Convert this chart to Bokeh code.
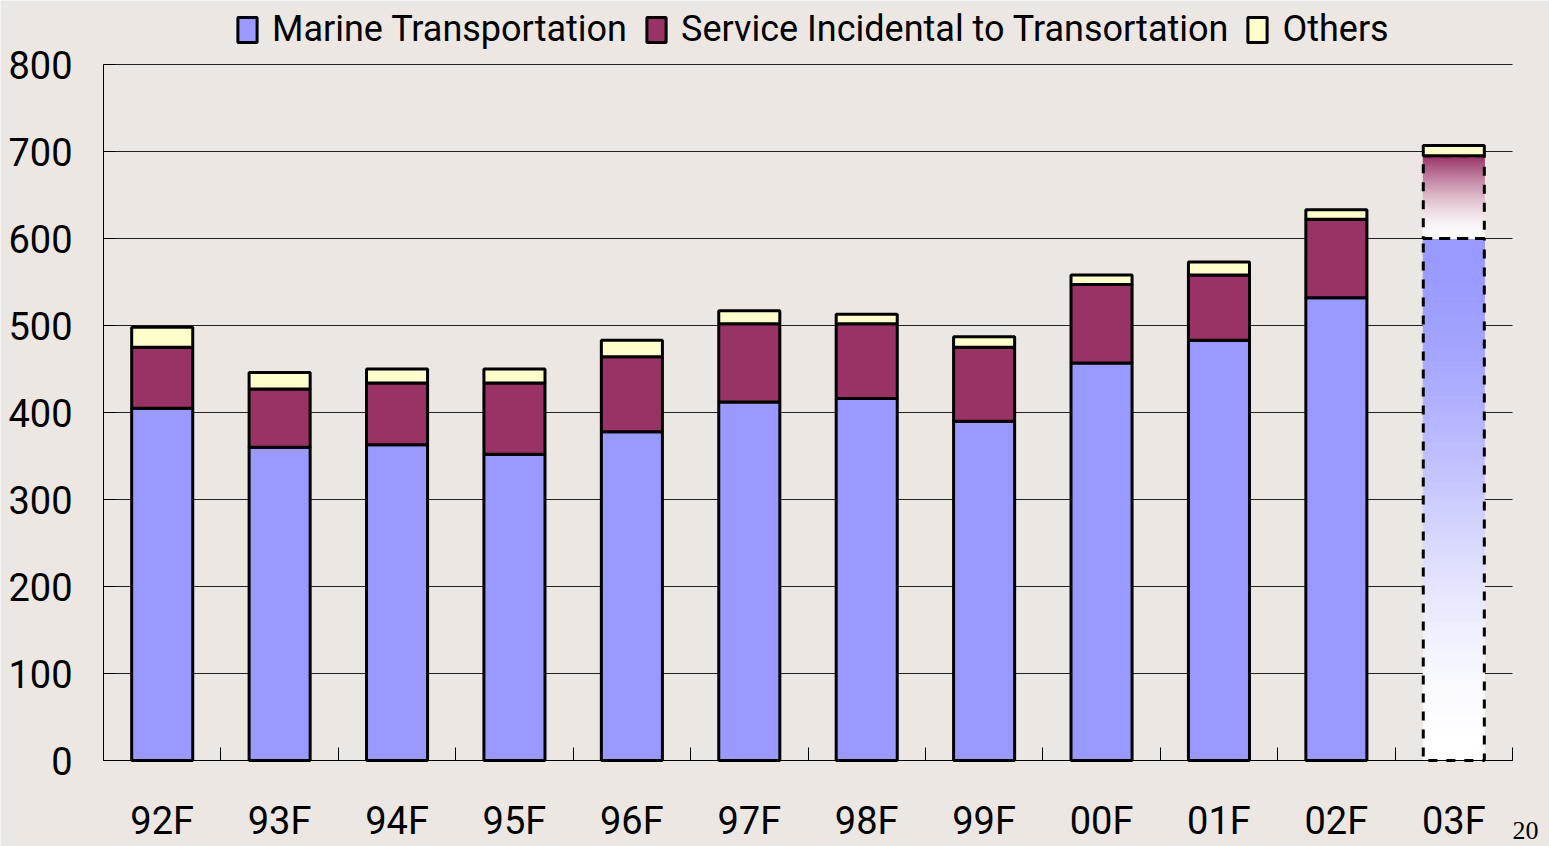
import re
import numpy as np
from bokeh.plotting import figure
from bokeh.models import ColumnDataSource, FixedTicker, Legend, LegendItem, Label, Range1d
from bokeh.embed import file_html
from bokeh.resources import INLINE

# ---------------- data ----------------
years = ["92F", "93F", "94F", "95F", "96F", "97F", "98F", "99F", "00F", "01F", "02F", "03F"]
marine = [405, 360, 363, 352, 378, 412, 416, 390, 457, 483, 532, 600]
service = [70, 67, 71, 82, 86, 90, 86, 85, 90, 75, 90, 95]
others = [23, 19, 16, 16, 19, 15, 11, 12, 11, 15, 11, 12]
y_ticks = [0, 100, 200, 300, 400, 500, 600, 700, 800]
series_names = ["Marine Transportation", "Service Incidental to Transortation", "Others"]
series_colors = ["#9999FF", "#993366", "#FFFFCC"]
page_number = "20"

# ---------------- layout / style ----------------
BG = "#ECE7E3"
FONT = "Roboto"
BAR_W = 0.52
W, H = 1549, 846
PLOT_L, PLOT_R, PLOT_T, PLOT_B = 103, 1512, 64, 760   # plotting area in canvas px

n = len(years)
xs = list(range(n))
last = n - 1  # forecast bar drawn with gradient / dashed outline
ymax = y_ticks[-1]

y_per_px = ymax / (PLOT_B - PLOT_T)
x_per_px = n / (PLOT_R - PLOT_L)
y_range = Range1d(-(H - PLOT_B) * y_per_px, ymax + PLOT_T * y_per_px)
x_range = Range1d(-0.5 - PLOT_L * x_per_px, n - 0.5 + (W - PLOT_R) * x_per_px)

p = figure(width=W, height=H, x_range=x_range, y_range=y_range,
           output_backend="svg", toolbar_location=None, min_border=0)
p.background_fill_color = BG
p.border_fill_color = BG
p.outline_line_color = None
p.xgrid.visible = False
p.ygrid.visible = False

# horizontal grid lines limited to the plotting area
p.segment(x0=-0.5, x1=n - 0.5, y0=y_ticks, y1=y_ticks, line_color="#222222", line_width=1)

# actual bars
src = ColumnDataSource(dict(x=xs[:last], marine=marine[:last], service=service[:last], others=others[:last]))
rs = p.vbar_stack(["marine", "service", "others"], x="x", width=BAR_W, source=src,
                  fill_color=series_colors, line_color="black", line_width=3)

# forecast bar with gradient fill
def hex2rgb(h):
    h = h.lstrip("#")
    return tuple(int(h[i:i + 2], 16) for i in (0, 2, 4))

def mix(base, f):
    r, g, b = hex2rgb(base)
    return "#%02x%02x%02x" % (round(255 + (r - 255) * f), round(255 + (g - 255) * f), round(255 + (b - 255) * f))

x0 = xs[last] - BAR_W / 2
x1 = xs[last] + BAR_W / 2
N = 90
seg_bottoms, seg_tops, seg_cols = [], [], []
edges = np.linspace(0, marine[last], N + 1)
for a, b in zip(edges[:-1], edges[1:]):
    t = ((a + b) / 2) / marine[last]
    f = 3 * t ** 2 - 2 * t ** 3
    seg_bottoms.append(a); seg_tops.append(b); seg_cols.append(mix(series_colors[0], f))
edges = np.linspace(marine[last], marine[last] + service[last], N + 1)
for a, b in zip(edges[:-1], edges[1:]):
    t = ((a + b) / 2 - marine[last]) / service[last]
    f = t ** 1.6
    seg_bottoms.append(a); seg_tops.append(b); seg_cols.append(mix(series_colors[1], f))
gsrc = ColumnDataSource(dict(bottom=seg_bottoms, top=seg_tops, color=seg_cols))
p.quad(left=x0, right=x1, bottom="bottom", top="top", fill_color="color", line_color="color",
       line_width=1, source=gsrc)

# dashed outlines
p.quad(left=x0, right=x1, bottom=0, top=marine[last], fill_color=None, line_color="black",
       line_width=3, line_dash="9 9")
p.quad(left=x0, right=x1, bottom=marine[last], top=marine[last] + service[last], fill_color=None,
       line_color="black", line_width=3, line_dash="9 9")
p.quad(left=x0, right=x1, bottom=marine[last] + service[last],
       top=marine[last] + service[last] + others[last],
       fill_color=series_colors[2], line_color="black", line_width=3)

# axes (placed at data locations so the whole canvas is the frame)
p.xaxis.fixed_location = 0
p.xaxis.bounds = (-0.5, n - 0.5)
p.xaxis.ticker = FixedTicker(ticks=xs, minor_ticks=[i - 0.5 for i in range(n + 1)])
p.xaxis.major_label_overrides = {i: years[i] for i in xs}
p.xaxis.major_tick_in = 0
p.xaxis.major_tick_out = 0
p.xaxis.minor_tick_in = 13
p.xaxis.minor_tick_out = 0
p.xaxis.minor_tick_line_color = "black"
p.xaxis.major_label_standoff = 38

p.yaxis.fixed_location = -0.5
p.yaxis.bounds = (0, ymax)
p.yaxis.ticker = FixedTicker(ticks=y_ticks)
p.yaxis.major_tick_in = 12
p.yaxis.major_tick_out = 0
p.yaxis.minor_tick_in = 0
p.yaxis.minor_tick_out = 0
p.yaxis.major_label_standoff = 31

for ax in (p.xaxis, p.yaxis):
    ax.axis_line_color = "black"
    ax.axis_line_width = 1
    ax.major_tick_line_color = "black"
    ax.major_label_text_font = FONT
    ax.major_label_text_font_size = "38px"
    ax.major_label_text_color = "black"

legend = Legend(items=[LegendItem(label=series_names[k], renderers=[rs[k]]) for k in range(3)],
                orientation="horizontal", location=(235, 796),
                glyph_width=24, glyph_height=31, label_standoff=13, spacing=17,
                padding=0, margin=0, background_fill_alpha=0, border_line_color=None,
                label_text_font=FONT, label_text_font_size="36px", label_text_color="black")
p.add_layout(legend, "center")

p.add_layout(Label(x=1512, y=838, x_units="canvas", y_units="canvas", text=page_number,
                   text_font="Liberation Serif", text_font_size="26px", text_baseline="bottom",
                   text_color="black"))

html = file_html(p, INLINE)
html = re.sub(r"<body([^>]*)>", r'<body\1 style="background-color:%s;">' % BG, html, count=1)
open("out.html", "w").write(html)
